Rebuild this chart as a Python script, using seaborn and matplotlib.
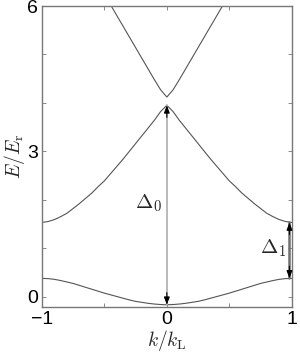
import numpy as np
import pandas as pd
import matplotlib
matplotlib.use("Agg")
import matplotlib.pyplot as plt
import seaborn as sns

# ---- data ----
k_half = [0.00, 0.05, 0.10, 0.15, 0.20, 0.25, 0.30, 0.35, 0.40, 0.45, 0.50,
          0.55, 0.60, 0.65, 0.70, 0.75, 0.80, 0.85, 0.90, 0.95, 1.00]
band1_half = [-0.17, -0.165, -0.155, -0.14, -0.12, -0.10, -0.07, -0.035, 0.00, 0.035, 0.07,
              0.11, 0.15, 0.19, 0.23, 0.27, 0.30, 0.33, 0.355, 0.37, 0.375]
band2_half = [3.95, 3.82, 3.64, 3.48, 3.32, 3.16, 3.00, 2.84, 2.69, 2.54, 2.39,
              2.27, 2.14, 2.03, 1.92, 1.82, 1.72, 1.65, 1.59, 1.55, 1.53]
k3_half = [0.00, 0.05, 0.10, 0.15, 0.20, 0.25, 0.30, 0.35, 0.40, 0.45, 0.50]
band3_half = [4.12, 4.27, 4.48, 4.70, 4.92, 5.14, 5.36, 5.58, 5.80, 6.02, 6.25]

x_ticks = [-1, -0.5, 0, 0.5, 1]
x_ticklabels = ["\u22121", "", "0", "", "1"]
y_ticks = [0, 1, 2, 3, 4, 5, 6]
y_ticklabels = ["0", "", "", "3", "", "", "6"]
gap_labels = [r"$\Delta_0$", r"$\Delta_1$"]


def mirror(k, e):
    kk = [-v for v in k[:0:-1]] + list(k)
    ee = list(e[:0:-1]) + list(e)
    return kk, ee


frames = []
for name, kh, eh in [("b1", k_half, band1_half), ("b2", k_half, band2_half), ("b3", k3_half, band3_half)]:
    kk, ee = mirror(kh, eh)
    frames.append(pd.DataFrame({"k": kk, "E": ee, "band": name}))
df = pd.concat(frames, ignore_index=True)

sns.set_style("ticks")
plt.rcParams["font.family"] = ["Liberation Sans", "DejaVu Sans"]
plt.rcParams["mathtext.fontset"] = "cm"

fig = plt.figure(figsize=(3.0, 3.54), dpi=100)
ax = fig.add_axes([0.14, 0.1336, 0.8323, 0.8494])

sns.lineplot(data=df, x="k", y="E", hue="band", units="band", estimator=None,
             palette={"b1": "#555555", "b2": "#555555", "b3": "#555555"},
             linewidth=0.8, legend=False, ax=ax, sort=False)

# gap arrows
e1_0, e2_0 = band1_half[0], band2_half[0]
e1_1, e2_1 = band1_half[-1], band2_half[-1]
xa = 0.982
ax.plot([0, 0], [e1_0, e2_0], color="#b4b4b4", lw=1.3, zorder=3)
ax.plot([xa, xa], [e1_1, e2_1], color="#6e6e6e", lw=1.8, zorder=3)
head = dict(arrowstyle="-|>,head_length=0.45,head_width=0.17", color="black",
            lw=0.8, shrinkA=0, shrinkB=0)
for (x, y0, y1) in [(0, e2_0 - 0.25, e2_0), (0, e1_0 + 0.25, e1_0),
                    (xa, e2_1 - 0.25, e2_1), (xa, e1_1 + 0.25, e1_1)]:
    ax.annotate("", xy=(x, y1), xytext=(x, y0), arrowprops=head, zorder=4)

ax.text(-0.147, 1.92, gap_labels[0], fontsize=15, ha="center", va="center")
ax.text(0.85, 1.0, gap_labels[1], fontsize=15, ha="center", va="center")

ax.set_xlim(-1, 1)
ax.set_ylim(-0.21, 6)
ax.set_xticks(x_ticks)
ax.set_xticklabels(x_ticklabels)
ax.set_yticks(y_ticks)
ax.set_yticklabels(y_ticklabels)
ax.tick_params(direction="in", length=3, width=0.6, color="#777777",
               labelsize=14, top=True, right=True, pad=3, labelcolor="black")
for s in ax.spines.values():
    s.set_color("#777777")
    s.set_linewidth(1.0)
    s.set_visible(True)

ax.set_xlabel(r"$k/k_{\rm L}$", fontsize=14, labelpad=0)
ax.set_ylabel(r"$E/E_{\rm r}$", fontsize=14, labelpad=0)

fig.savefig("out.png", dpi=100)
